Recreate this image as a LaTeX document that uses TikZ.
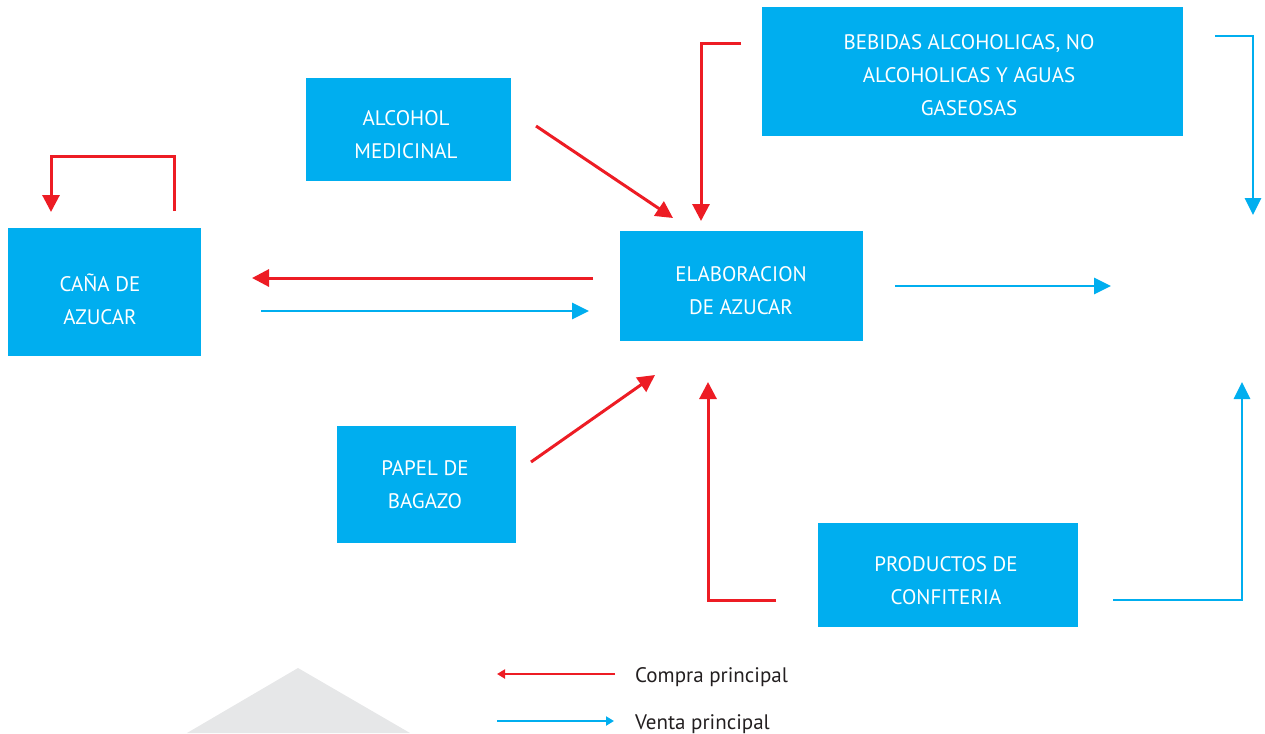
\documentclass[tikz,border=0pt]{standalone}
\usepackage{fontspec}
\setmainfont{PT Sans}
\usetikzlibrary{arrows.meta}
\definecolor{cy}{HTML}{00AEEF}
\definecolor{rd}{HTML}{ED1C24}
\definecolor{gr}{HTML}{E6E7E8}
\definecolor{tx}{HTML}{231F20}
\begin{document}
\begin{tikzpicture}[x=1pt,y=-1pt,
  box/.style={fill=cy, draw=none, inner sep=0pt, anchor=north west},
  lbl/.style={text=white, align=center, inner sep=0pt, font=\fontsize{21}{33}\selectfont},
  redarr/.style={draw=rd, line width=3pt, -{Triangle[length=17pt,width=17pt]}},
  bluarr/.style={draw=cy, line width=2.8pt, -{Triangle[length=17pt,width=16pt]}},
  redleg/.style={draw=rd, line width=2.2pt, -{Triangle[length=8pt,width=9pt]}},
  bluleg/.style={draw=cy, line width=2.2pt, -{Triangle[length=8pt,width=9pt]}},
  legtxt/.style={text=tx, anchor=base west, inner sep=0pt, font=\fontsize{21}{24}\selectfont}]
\useasboundingbox (0,0) rectangle (1265,733);
% background triangle
\fill[gr] (187,733) -- (298,668) -- (410,733) -- cycle;
% boxes
\node[box, minimum width=193pt, minimum height=128pt] (cana) at (8,228) {};
\node[box, minimum width=205pt, minimum height=103pt] (alco) at (306,78) {};
\node[box, minimum width=179pt, minimum height=117pt] (papel) at (337,426) {};
\node[box, minimum width=243pt, minimum height=110pt] (elab) at (620,231) {};
\node[box, minimum width=421pt, minimum height=129pt] (bebi) at (762,7) {};
\node[box, minimum width=260pt, minimum height=104pt] (prod) at (818,523) {};
% texts
\node[lbl] (canat) at (100,299) {CAÑA DE\\AZUCAR};
\node[lbl] (alcot) at (406,134.5) {ALCOHOL\\MEDICINAL};
\node[lbl] (papelt) at (425,484.5) {PAPEL DE\\BAGAZO};
\node[lbl] (elabt) at (741,291) {ELABORACION\\DE AZUCAR};
\node[lbl] (bebit) at (969,75.5) {BEBIDAS ALCOHOLICAS, NO\\ALCOHOLICAS Y AGUAS\\GASEOSAS};
\node[lbl] (prodt) at (946,580.5) {PRODUCTOS DE\\CONFITERIA};
% coordinates
\coordinate (c1) at (174,211);
\coordinate (c2) at (51,212);
\coordinate (r1s) at (593,278);
\coordinate (r1e) at (252,278);
\coordinate (b1s) at (261,311);
\coordinate (b1e) at (589,311);
\coordinate (a1s) at (536,126);
\coordinate (a1e) at (673,218);
\coordinate (bes) at (741,44);
\coordinate (bee) at (701,221);
\coordinate (pas) at (531,462);
\coordinate (pae) at (655,375);
\coordinate (prs) at (776,600);
\coordinate (pre) at (708,382);
\coordinate (ebs) at (895,286);
\coordinate (ebe) at (1111,286);
\coordinate (bbs) at (1215,36);
\coordinate (bbe) at (1253,215);
\coordinate (pbs) at (1113,600);
\coordinate (pbe) at (1242,382);
% red connectors
\draw[redarr] (c1) |- (112,156) -| (c2);
\draw[redarr] (r1s) -- (r1e);
\draw[redarr] (a1s) -- (a1e);
\draw[redarr] (bes) -| (bee);
\draw[redarr] (pas) -- (pae);
\draw[redarr] (prs) -| (pre);
% blue connectors
\draw[bluarr] (b1s) -- (b1e);
\draw[bluarr] (ebs) -- (ebe);
\draw[bluarr] (bbs) -| (bbe);
\draw[bluarr] (pbs) -| (pbe);
% legend
\coordinate (l1s) at (615,674);
\coordinate (l1e) at (497,674);
\coordinate (l2s) at (497,721);
\coordinate (l2e) at (614,721);
\draw[redleg] (l1s) -- (l1e);
\draw[bluleg] (l2s) -- (l2e);
\node[legtxt] (leg1) at (635,682) {Compra principal};
\node[legtxt] (leg2) at (635,729) {Venta principal};
\end{tikzpicture}
\end{document}
